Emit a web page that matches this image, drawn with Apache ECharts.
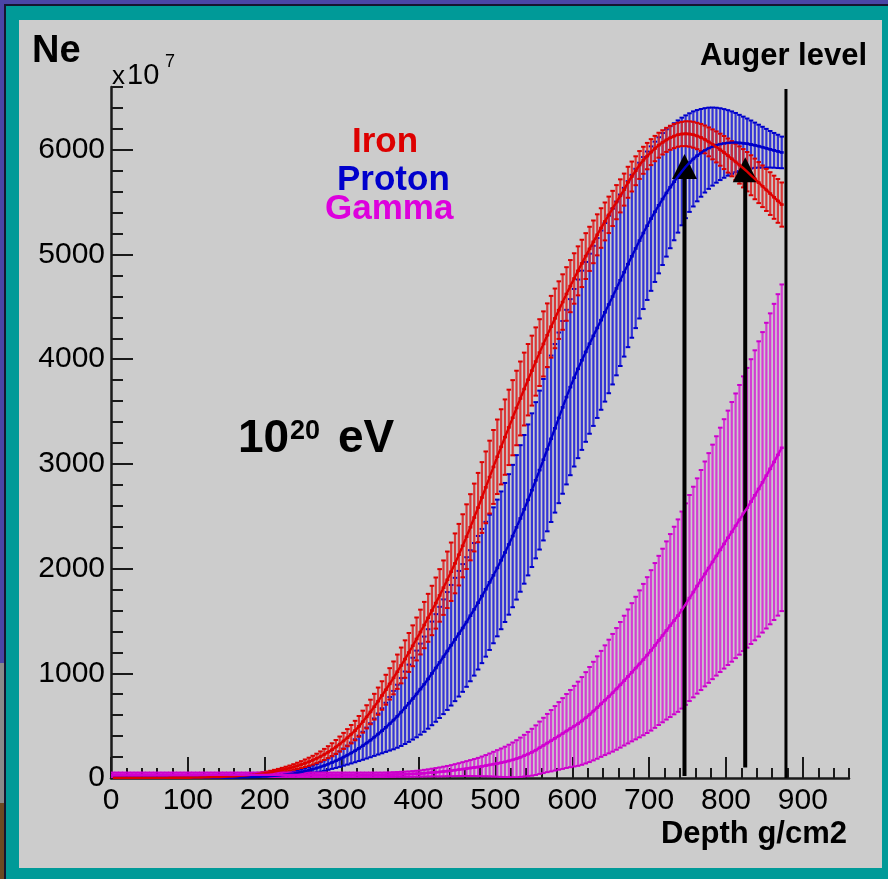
<html>
<head>
<meta charset="utf-8">
<title>Ne vs depth</title>
<script src="https://cdn.jsdelivr.net/npm/echarts@6/dist/echarts.min.js"></script>
<style>
  body { margin: 0; background: #009a98; }
  .blk { position: absolute; }
  #main { position: absolute; left: 0; top: 0; width: 888px; height: 879px; }
</style>
</head>
<body>
<div class="blk" style="left:0;top:0;width:888px;height:4px;background:#4a45a6"></div>
<div class="blk" style="left:0;top:4px;width:888px;height:2px;background:#151530"></div>
<div class="blk" style="left:0;top:0;width:4px;height:663px;background:#4a45a6"></div>
<div class="blk" style="left:0;top:663px;width:4px;height:140px;background:#8a8a8a"></div>
<div class="blk" style="left:0;top:803px;width:4px;height:76px;background:#6b4a22"></div>
<div class="blk" style="left:4px;top:4px;width:2px;height:875px;background:#151530"></div>
<div class="blk" style="left:19px;top:20px;width:863px;height:848px;background:#cccccc"></div>
<div id="main"></div>
<script>
// depth bin centres (g/cm2)
var depth = [2.5,7.5,12.5,17.5,22.5,27.5,32.5,37.5,42.5,47.5,
  52.5,57.5,62.5,67.5,72.5,77.5,82.5,87.5,92.5,97.5,
  102.5,107.5,112.5,117.5,122.5,127.5,132.5,137.5,142.5,147.5,
  152.5,157.5,162.5,167.5,172.5,177.5,182.5,187.5,192.5,197.5,
  202.5,207.5,212.5,217.5,222.5,227.5,232.5,237.5,242.5,247.5,
  252.5,257.5,262.5,267.5,272.5,277.5,282.5,287.5,292.5,297.5,
  302.5,307.5,312.5,317.5,322.5,327.5,332.5,337.5,342.5,347.5,
  352.5,357.5,362.5,367.5,372.5,377.5,382.5,387.5,392.5,397.5,
  402.5,407.5,412.5,417.5,422.5,427.5,432.5,437.5,442.5,447.5,
  452.5,457.5,462.5,467.5,472.5,477.5,482.5,487.5,492.5,497.5,
  502.5,507.5,512.5,517.5,522.5,527.5,532.5,537.5,542.5,547.5,
  552.5,557.5,562.5,567.5,572.5,577.5,582.5,587.5,592.5,597.5,
  602.5,607.5,612.5,617.5,622.5,627.5,632.5,637.5,642.5,647.5,
  652.5,657.5,662.5,667.5,672.5,677.5,682.5,687.5,692.5,697.5,
  702.5,707.5,712.5,717.5,722.5,727.5,732.5,737.5,742.5,747.5,
  752.5,757.5,762.5,767.5,772.5,777.5,782.5,787.5,792.5,797.5,
  802.5,807.5,812.5,817.5,822.5,827.5,832.5,837.5,842.5,847.5,
  852.5,857.5,862.5,867.5,872.5];

// Ne (x10^7): mean and error per bin
var ironMean = [0,0,0,0,0,0,0,0,0,1,
  1,1,1,1,1,2,2,2,2,3,
  3,4,4,5,6,7,8,9,10,11,
  13,15,17,20,23,26,30,34,39,44,
  49,55,62,69,77,86,95,105,116,128,
  141,155,170,187,205,225,247,270,296,324,
  354,385,418,453,493,538,584,631,681,734,
  788,843,899,956,1015,1075,1136,1199,1263,1328,
  1394,1461,1530,1600,1671,1744,1818,1893,1970,2050,
  2133,2218,2305,2395,2488,2583,2679,2776,2874,2971,
  3068,3163,3256,3349,3441,3534,3625,3715,3804,3891,
  3978,4063,4146,4229,4310,4390,4469,4546,4623,4698,
  4771,4844,4915,4985,5054,5121,5188,5253,5316,5379,
  5440,5500,5560,5620,5690,5745,5800,5855,5900,5940,
  5978,6012,6044,6071,6095,6115,6131,6144,6151,6154,
  6151,6144,6132,6118,6099,6076,6052,6028,6001,5974,
  5945,5915,5885,5855,5824,5791,5757,5722,5687,5652,
  5617,5582,5547,5512,5477];
var ironErr = [0,0,0,0,0,0,0,0,0,0,
  0,0,0,0,0,1,1,1,1,1,
  1,1,1,2,2,2,2,3,3,4,
  4,5,5,6,7,8,9,10,11,12,
  13,14,16,18,20,22,24,27,30,33,
  36,39,42,45,49,53,57,62,67,72,
  77,82,88,93,99,105,111,117,123,130,
  136,143,150,157,164,171,179,186,195,205,
  214,221,229,236,244,251,260,270,279,286,
  294,301,309,316,324,331,338,343,348,353,
  356,359,360,360,359,356,353,348,341,334,
  326,319,311,304,295,285,275,265,256,249,
  241,234,226,219,211,204,196,189,181,174,
  168,163,158,153,148,143,138,133,129,126,
  124,121,119,116,115,115,115,115,116,119,
  121,124,126,129,133,138,143,148,153,158,
  163,168,173,178,183,188,191,194,196,199,
  201,204,206,209,211];

var protonMean = [0,0,0,0,0,0,0,0,0,0,
  0,0,0,0,0,0,0,0,0,0,
  0,1,1,1,1,1,1,1,1,2,
  2,3,4,5,6,7,8,9,11,13,
  15,18,21,24,28,33,38,43,50,57,
  65,74,84,95,106,119,133,148,164,181,
  200,219,239,260,283,308,334,361,390,420,
  451,484,518,553,590,630,671,714,758,803,
  849,896,946,999,1051,1104,1158,1213,1268,1323,
  1378,1433,1490,1550,1611,1674,1738,1803,1869,1936,
  2006,2079,2154,2231,2311,2394,2479,2566,2656,2749,
  2844,2941,3040,3140,3240,3340,3440,3540,3638,3733,
  3823,3908,3990,4070,4148,4223,4298,4373,4448,4523,
  4599,4676,4754,4831,4908,4983,5058,5133,5205,5275,
  5343,5408,5470,5530,5588,5643,5695,5745,5793,5838,
  5878,5913,5944,5971,5995,6015,6031,6044,6054,6061,
  6066,6069,6069,6066,6063,6058,6051,6044,6035,6025,
  6015,6005,5995,5985,5975];
var protonErr = [0,0,0,0,0,0,0,0,0,0,
  0,0,0,0,0,0,0,0,0,0,
  0,0,0,0,0,1,1,1,1,1,
  1,2,2,2,2,3,3,4,5,6,
  7,8,9,10,12,14,16,19,22,25,
  28,31,35,40,45,50,55,61,68,75,
  82,91,100,110,121,134,148,163,179,196,
  215,235,256,279,301,324,346,369,391,414,
  435,455,475,495,514,531,548,563,576,589,
  600,610,619,626,633,638,641,644,646,649,
  653,658,664,671,680,690,700,710,721,734,
  746,759,771,784,795,805,815,825,834,841,
  848,853,856,859,860,860,859,856,853,848,
  840,830,819,806,793,778,761,744,726,709,
  690,670,650,630,608,583,559,536,514,491,
  471,454,436,419,403,388,373,358,343,328,
  313,298,283,268,254,241,229,216,205,195,
  185,175,166,159,151];

var gammaMean = [30,30,30,30,30,30,30,30,30,30,
  30,30,30,30,30,30,30,30,30,30,
  30,30,30,30,30,30,30,30,30,30,
  30,30,30,30,30,30,30,30,30,30,
  30,30,30,30,30,30,30,30,30,30,
  30,30,30,30,30,30,30,30,30,30,
  30,30,30,30,30,30,30,30,30,30,
  30,31,32,33,34,35,36,37,39,41,
  43,46,49,52,55,58,62,66,70,75,
  80,85,90,95,100,105,111,118,125,132,
  139,146,154,163,173,184,198,213,229,246,
  266,289,311,334,356,379,402,425,449,472,
  495,518,545,575,606,639,673,708,743,778,
  814,851,890,930,970,1010,1050,1090,1131,1174,
  1219,1266,1314,1361,1409,1456,1504,1551,1604,1661,
  1719,1776,1834,1891,1949,2006,2064,2121,2179,2236,
  2294,2351,2409,2466,2524,2581,2640,2700,2761,2824,
  2888,2953,3019,3086,3154];
var gammaErr = [22,22,22,22,22,22,22,22,22,22,
  22,22,22,22,22,22,22,22,22,22,
  22,22,22,22,22,22,22,22,22,22,
  22,22,22,22,22,22,22,22,22,22,
  22,22,22,22,22,22,22,22,22,22,
  22,22,22,22,22,22,22,22,22,22,
  22,22,22,22,22,22,22,22,22,22,
  22,22,22,23,23,24,25,26,27,28,
  30,32,34,37,40,43,46,49,53,57,
  61,66,71,76,81,87,94,101,109,118,
  127,136,145,155,166,177,188,199,211,224,
  237,250,264,278,293,308,323,338,353,369,
  385,402,419,436,454,471,489,506,524,543,
  562,581,600,620,640,660,681,702,723,744,
  766,787,808,829,851,874,896,919,941,962,
  984,1006,1028,1051,1074,1097,1120,1143,1167,1191,
  1215,1240,1264,1288,1312,1336,1360,1385,1410,1435,
  1460,1485,1510,1535,1560];

// axis ticks
var xTicks = [0,100,200,300,400,500,600,700,800,900];
var yTicks = [0,1000,2000,3000,4000,5000,6000];

// shower maximum arrows and Auger level
var arrowX = [746, 825];
var arrowFrom = [20, 100];
var arrowTo = [5960, 5930];
var augerX = 878;
var augerTop = 6580;

var FONT = "'Liberation Sans', Arial, Helvetica, sans-serif";

function rows(mean, err) {
  return depth.map(function (d, i) { return [d, mean[i], err[i]]; });
}

function errItem(barColor, capColor) {
  return function (params, api) {
    var x = api.value(0), m = api.value(1), e = api.value(2);
    var top = api.coord([x, m + e]);
    var bot = api.coord([x, Math.max(m - e, 0)]);
    var mid = api.coord([x, m]);
    var c = 2.3;
    var kids = [];
    if (e > 0) {
      kids.push({type: 'line', shape: {x1: top[0], y1: top[1], x2: bot[0], y2: bot[1]},
        style: {stroke: barColor, lineWidth: 2.2}});
      kids.push({type: 'line', shape: {x1: top[0] - c, y1: top[1], x2: top[0] + c, y2: top[1]},
        style: {stroke: capColor, lineWidth: 2}});
      kids.push({type: 'line', shape: {x1: bot[0] - c, y1: bot[1], x2: bot[0] + c, y2: bot[1]},
        style: {stroke: capColor, lineWidth: 2}});
    }
    kids.push({type: 'line', shape: {x1: mid[0] - 2, y1: mid[1], x2: mid[0] + 2, y2: mid[1]},
      style: {stroke: capColor, lineWidth: 2.6}});
    return {type: 'group', children: kids};
  };
}

function arrowItem(params, api) {
  var x = api.value(0);
  var p0 = api.coord([x, api.value(1)]);
  var p1 = api.coord([x, api.value(2)]);
  return {
    type: 'group',
    children: [
      {type: 'line', shape: {x1: p0[0], y1: p0[1], x2: p1[0], y2: p1[1] + 24},
        style: {stroke: '#000', lineWidth: 4}},
      {type: 'polygon', shape: {points: [[p1[0], p1[1]], [p1[0] - 12.5, p1[1] + 25], [p1[0] + 12.5, p1[1] + 25]]},
        style: {fill: '#000'}}
    ]
  };
}

function txt(text, x, y, font, color, align) {
  return {
    type: 'text', x: x, y: y, z: 100,
    style: {text: text, font: font, fill: color || '#000',
      align: align || 'left', textAlign: align || 'left',
      verticalAlign: 'middle', textVerticalAlign: 'middle'}
  };
}

function meanLine(mean) {
  return depth.map(function (d, i) { return [d, mean[i]]; });
}

var myChart = echarts.init(document.getElementById('main'));

var axisCol = '#1a1a1a';
var option = {
  backgroundColor: 'transparent',
  animation: false,
  grid: {left: 111, top: 87, width: 738, height: 691},
  xAxis: [{
    type: 'value', min: 0, max: 960, interval: 100,
    axisLine: {show: true, lineStyle: {color: axisCol, width: 2.5}},
    axisTick: {inside: true, length: 21, customValues: xTicks, lineStyle: {color: axisCol, width: 2}},
    axisLabel: {customValues: xTicks, color: '#000', fontSize: 30, fontFamily: FONT, margin: 8,
      formatter: function (v) { return String(v); }},
    splitLine: {show: false}
  }, {
    type: 'value', min: 0, max: 960, interval: 20, position: 'bottom',
    axisLine: {show: false},
    axisTick: {inside: true, length: 10, lineStyle: {color: axisCol, width: 2}},
    axisLabel: {show: false},
    splitLine: {show: false}
  }],
  yAxis: [{
    type: 'value', min: 0, max: 6600, interval: 1000,
    axisLine: {show: true, lineStyle: {color: axisCol, width: 2.5}},
    axisTick: {inside: true, length: 22, customValues: yTicks, lineStyle: {color: axisCol, width: 2}},
    axisLabel: {customValues: yTicks, color: '#000', fontSize: 30, fontFamily: FONT, margin: 6,
      formatter: function (v) { return String(v); }},
    splitLine: {show: false}
  }, {
    type: 'value', min: 0, max: 6600, interval: 200, position: 'left',
    axisLine: {show: false},
    axisTick: {inside: true, length: 12, lineStyle: {color: axisCol, width: 2}},
    axisLabel: {show: false},
    splitLine: {show: false}
  }],
  series: [
    {name: 'Proton err', type: 'custom', clip: true, renderItem: errItem('rgba(35,35,215,0.9)', '#0000cc'),
      data: rows(protonMean, protonErr)},
    {name: 'Proton', type: 'line', symbol: 'none', data: meanLine(protonMean),
      lineStyle: {color: '#0000c8', width: 2.4}},
    {name: 'Iron err', type: 'custom', clip: true, renderItem: errItem('rgba(220,40,40,0.9)', '#dd0000'),
      data: rows(ironMean, ironErr)},
    {name: 'Iron', type: 'line', symbol: 'none', data: meanLine(ironMean),
      lineStyle: {color: '#dd0000', width: 2.4}},
    {name: 'Gamma err', type: 'custom', clip: true, renderItem: errItem('rgba(212,45,212,0.9)', '#cc00cc'),
      data: rows(gammaMean, gammaErr)},
    {name: 'Gamma', type: 'line', symbol: 'none', data: meanLine(gammaMean),
      lineStyle: {color: '#d000d0', width: 2.4}},
    {name: 'Auger level', type: 'line', symbol: 'none', data: [[augerX, 0], [augerX, augerTop]],
      lineStyle: {color: '#000', width: 3}},
    {name: 'Xmax', type: 'custom', renderItem: arrowItem,
      data: arrowX.map(function (x, i) { return [x, arrowFrom[i], arrowTo[i]]; })}
  ],
  graphic: [
    txt('Ne', 32, 52, 'bold 38px ' + FONT),
    txt('x', 112, 77, '26px ' + FONT),
    txt('10', 127, 76, '29px ' + FONT),
    txt('7', 165, 62, '18px ' + FONT),
    txt('Auger level', 867, 56, 'bold 31px ' + FONT, '#000', 'right'),
    txt('Depth g/cm2', 847, 834, 'bold 31px ' + FONT, '#000', 'right'),
    txt('Iron', 352, 142, 'bold 35px ' + FONT, '#dd0000'),
    txt('Proton', 337, 180, 'bold 35px ' + FONT, '#0000cc'),
    txt('Gamma', 325, 209, 'bold 35px ' + FONT, '#dd00dd'),
    txt('10', 238, 439, 'bold 46px ' + FONT),
    txt('20', 290, 432, 'bold 27px ' + FONT),
    txt('eV', 338, 439, 'bold 46px ' + FONT)
  ]
};

myChart.setOption(option);
</script>
</body>
</html>
